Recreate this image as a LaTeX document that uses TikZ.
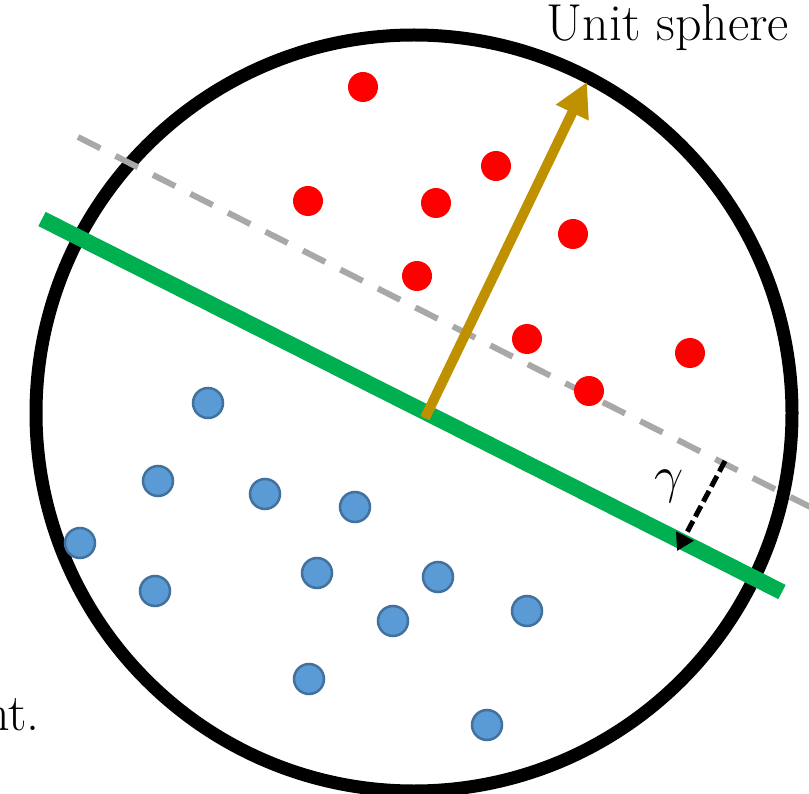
\RequirePackage{fix-cm}
\documentclass[tikz,border=0pt]{standalone}
\usetikzlibrary{arrows.meta}
\definecolor{redpt}{RGB}{255,0,0}
\definecolor{bluefill}{RGB}{91,155,213}
\definecolor{blueedge}{RGB}{65,113,156}
\definecolor{greenln}{RGB}{0,176,80}
\definecolor{goldln}{RGB}{191,144,0}
\definecolor{grayln}{RGB}{170,167,167}
\tikzset{
  reddot/.style={circle, fill=redpt, draw=none, minimum size=30pt, inner sep=0pt},
  bluedot/.style={circle, fill=bluefill, draw=blueedge, line width=2.5pt, minimum size=30pt, inner sep=0pt},
  sphere/.style={draw=black, line width=13pt},
  separator/.style={draw=greenln, line width=16pt},
  marginline/.style={draw=grayln, line width=6pt, dash pattern=on 25pt off 17pt},
  normalarrow/.style={draw=goldln, line width=10pt, -{Triangle[length=34pt,width=34pt]}},
  gammaarrow/.style={draw=black, line width=5pt, dash pattern=on 12pt off 5pt, -{Triangle[length=17pt,width=19pt]}},
  lbl/.style={inner sep=0pt, font=\fontsize{52}{62}\selectfont}
}
\begin{document}
\begin{tikzpicture}[x=1pt,y=-1pt]
\useasboundingbox (0,0) rectangle (809,794);
% unit sphere
\node[sphere, circle, minimum size=756pt, inner sep=0pt] (ball) at (414,413) {};
% margin (dashed) line
\coordinate (m1) at (78,137);
\coordinate (m2) at (830,517);
\draw[marginline] (m1) -- (m2);
% separating hyperplane
\coordinate (g1) at (42,219);
\coordinate (g2) at (782,592);
\draw[separator, line cap=butt] (g1) -- (g2);
% red points
\node[reddot] (r1) at (363,87) {};
\node[reddot] (r2) at (308,201) {};
\node[reddot] (r3) at (436,203) {};
\node[reddot] (r4) at (496,166) {};
\node[reddot] (r5) at (573,234) {};
\node[reddot] (r6) at (417,276) {};
\node[reddot] (r7) at (527,339) {};
\node[reddot] (r8) at (690,353) {};
\node[reddot] (r9) at (589,391) {};
% blue points
\node[bluedot] (b1) at (208,403) {};
\node[bluedot] (b2) at (158,481) {};
\node[bluedot] (b3) at (265,494) {};
\node[bluedot] (b4) at (355,507) {};
\node[bluedot] (b5) at (80,543) {};
\node[bluedot] (b6) at (155,591) {};
\node[bluedot] (b7) at (317,573) {};
\node[bluedot] (b8) at (438,577) {};
\node[bluedot] (b9) at (393,621) {};
\node[bluedot] (b10) at (527,611) {};
\node[bluedot] (b11) at (309,679) {};
\node[bluedot] (b12) at (487,725) {};
% normal vector
\coordinate (w0) at (425,418);
\coordinate (w1) at (587,82);
\draw[normalarrow] (w0) -- (w1);
% margin gamma
\coordinate (q0) at (725,461);
\coordinate (q1) at (677,551);
\draw[gammaarrow] (q0) -- (q1);
\node[lbl, anchor=base] (gam) at (669,492) {$\gamma$};
% labels
\node[lbl, anchor=base east] (unit) at (789,41) {Unit sphere};
\node[lbl, anchor=base east] (cut) at (40,730) {nt.};
\end{tikzpicture}
\end{document}
